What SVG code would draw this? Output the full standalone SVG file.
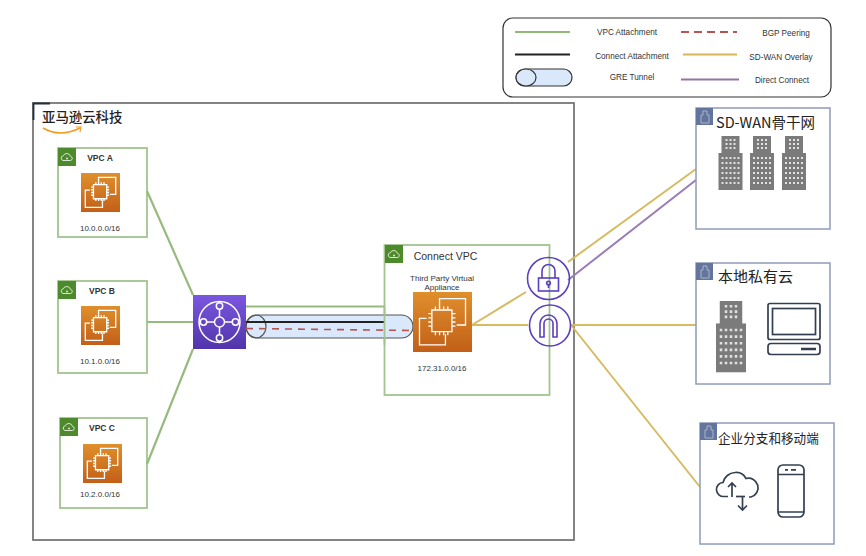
<svg xmlns="http://www.w3.org/2000/svg" width="866" height="556" viewBox="0 0 866 556">
<style>
.t{font-family:"Liberation Sans",Arial,sans-serif;fill:#333;text-anchor:middle}
.leg{font-size:8.200px}
.cidr{font-size:8px}
.vpc{fill:#fff;stroke:#a3c48e;stroke-width:1.800}
.cjk{font-family:"Noto Sans CJK SC","Liberation Sans",sans-serif;fill:#222}
.site{fill:#fff;stroke:#8f9bb8;stroke-width:1.500}
.g{stroke:#97bb7e;stroke-width:2.200;fill:none}
.y{stroke:#d6bb62;stroke-width:2;fill:none}
.p{stroke:#9a7cb8;stroke-width:2;fill:none}
.ic{fill:none;stroke:#5a3fc0;stroke-width:1.600}
.w{fill:none;stroke:#fff;stroke-width:1.300}
.d{fill:none;stroke:#333f50;stroke-width:1.700}
</style>
<defs>
<linearGradient id="org" x1="0" y1="0" x2="0" y2="1"><stop offset="0" stop-color="#e08f2c"/><stop offset="1" stop-color="#c25f18"/></linearGradient>
<linearGradient id="pur" x1="0" y1="0" x2="0" y2="1"><stop offset="0" stop-color="#7b57e0"/><stop offset="1" stop-color="#5134ab"/></linearGradient>
<g id="chip">
<rect width="100" height="100" fill="url(#org)"/>
<path class="w" vector-effect="non-scaling-stroke" d="M45 26V11H89V55H74M55 70V88H11V44H23"/>
<rect class="w" vector-effect="non-scaling-stroke" x="32" y="30" width="34" height="36"/>
<path class="w" vector-effect="non-scaling-stroke" d="M38 24V30M45 24V30M52 24V30M59 24V30M38 66V72M45 66V72M52 66V72M59 66V72M26 36H32M26 43H32M26 50H32M26 57H32M66 36H72M66 43H72M66 50H72M66 57H72"/>
</g>
<g id="cloud">
<rect width="18" height="18" fill="#4d8a2c"/>
<path d="M5 12.500a2.400 2.400 0 0 1 .3-4.700a3.800 3.800 0 0 1 7.200.6a2.100 2.100 0 0 1 .2 4.100z" fill="none" stroke="#d8e8cc" stroke-width="1"/>
<circle cx="9" cy="10.500" r="1" fill="#d8e8cc"/>
</g>
<g id="siteicon">
<rect width="17" height="17" fill="#63759c"/>
<path d="M5 15V7H7V3H11V7H13V15Z" fill="none" stroke="#aab4ca" stroke-width="1"/>
</g>
<g id="bldg">
<rect x="3" y="0" width="18" height="18" fill="#7b7b7b"/>
<rect x="0" y="17" width="24" height="37" fill="#7b7b7b"/>
<path d="M7 4H18M7 8H18M7 12H18" stroke="#e2e2e2" stroke-width="2" stroke-dasharray="2 2"/>
<path d="M3 22H22M3 27H22M3 32H22M3 37H22M3 42H22M3 47H22" stroke="#e2e2e2" stroke-width="2" stroke-dasharray="2 2"/>
</g>
</defs>
<rect width="866" height="556" fill="#fff"/>

<g id="legend">
<rect x="503" y="18" width="328" height="79" rx="10" fill="#fff" stroke="#333" stroke-width="1.200"/>
<path d="M515 32H570" stroke="#93b97a" stroke-width="2"/>
<path d="M515 54.500H570" stroke="#222" stroke-width="2"/>
<rect x="516" y="69" width="56" height="17" rx="8.500" fill="#dae8fc" stroke="#333" stroke-width="1.200"/>
<ellipse cx="526" cy="77.500" rx="10" ry="8.500" fill="#dae8fc" stroke="#333" stroke-width="1.200"/>
<path d="M681 32H737" stroke="#b85450" stroke-width="1.800" stroke-dasharray="8 5"/>
<path d="M683 54.500H737" stroke="#d6b656" stroke-width="1.800"/>
<path d="M681 79.500H739" stroke="#9673a6" stroke-width="1.800"/>
<text class="t leg" x="627" y="35">VPC Attachment</text>
<text class="t leg" x="632" y="59">Connect Attachment</text>
<text class="t leg" x="632" y="80">GRE Tunnel</text>
<text class="t leg" x="786" y="36">BGP Peering</text>
<text class="t leg" x="781" y="60">SD-WAN Overlay</text>
<text class="t leg" x="782" y="83">Direct Connect</text>
</g>

<g id="aws-cloud">
<rect x="33" y="103" width="541" height="437" fill="#fff" stroke="#777" stroke-width="1.800"/>
<path d="M33.500 120V103.500H50" fill="none" stroke="#232f3e" stroke-width="1.800"/>
<text class="cjk" x="42" y="122" font-size="13.400" font-weight="500">亚马逊云科技</text>
<path d="M43 128Q60 138 80 128" fill="none" stroke="#f09a1e" stroke-width="1.600"/>
<path d="M76 127L81 127L80 132" fill="none" stroke="#f09a1e" stroke-width="1.200"/>
</g>

<g id="vpc-a">
<rect class="vpc" x="58" y="148" width="89" height="89"/>
<use href="#cloud" x="58" y="148"/>
<text class="t" x="100" y="161" font-size="8.500" font-weight="700">VPC A</text>
<use href="#chip" transform="translate(81 173) scale(.39)"/>
<text class="t cidr" x="100" y="231">10.0.0.0/16</text>
</g>
<g id="vpc-b">
<rect class="vpc" x="58" y="281" width="89" height="92"/>
<use href="#cloud" x="58" y="281"/>
<text class="t" x="102" y="294" font-size="8.500" font-weight="700">VPC B</text>
<use href="#chip" transform="translate(81 306) scale(.39)"/>
<text class="t cidr" x="100" y="364">10.1.0.0/16</text>
</g>
<g id="vpc-c">
<rect class="vpc" x="60" y="418" width="87" height="90"/>
<use href="#cloud" x="60" y="418"/>
<text class="t" x="102" y="431" font-size="8.500" font-weight="700">VPC C</text>
<use href="#chip" transform="translate(83 444) scale(.39)"/>
<text class="t cidr" x="100" y="497">10.2.0.0/16</text>
</g>

<g id="connect-vpc">
<rect class="vpc" x="384.500" y="245" width="165" height="150"/>
<use href="#cloud" x="385" y="245"/>
<text class="t" x="445.500" y="260" font-size="10.500">Connect VPC</text>
<text class="t" x="442" y="281" font-size="8">Third Party Virtual</text>
<text class="t" x="442" y="290" font-size="8">Appliance</text>
<text class="t cidr" x="442" y="371">172.31.0.0/16</text>
</g>

<g id="connectors">
<path class="g" d="M147 191L193 295M147 322H193M147 464L193 349"/>
<path class="g" d="M246 306.500H384"/>
<rect x="246" y="315" width="167" height="23" rx="11.500" fill="#dae8fc" stroke="#555" stroke-width="1.200"/>
<ellipse cx="256" cy="326.500" rx="10" ry="11.500" fill="none" stroke="#555" stroke-width="1.200"/>
<path d="M246 322H384" stroke="#222" stroke-width="2"/>
<path d="M246 328.500L413 330.500" stroke="#b85450" stroke-width="1.600" stroke-dasharray="7 6"/>
<path d="M384.500 306V345" class="g" style="stroke:#a3c48e;stroke-width:1.800"/>
<path class="y" d="M472 325L526 292M472 325H528M571 325H696M571 325L700 487M568 262L696 169"/>
<path class="p" d="M568 280L696 180"/>
</g>

<g id="appliance"><use href="#chip" transform="translate(413 292) scale(.59 .6)"/></g>

<g id="tgw">
<rect x="193" y="295" width="53" height="54" fill="url(#pur)"/>
<g fill="none" stroke="#fff" stroke-width="1.500">
<circle cx="219.500" cy="322" r="20.500"/>
<circle cx="219.500" cy="322" r="5"/>
<circle cx="219.500" cy="306" r="3.200"/>
<circle cx="219.500" cy="338" r="3.200"/>
<circle cx="203.500" cy="322" r="3.200"/>
<circle cx="235.500" cy="322" r="3.200"/>
<path d="M219.500 309V317M219.500 327V335M206.500 322H214.500M224.500 322H232.500"/>
</g>
</g>

<g id="vpn-gateway">
<circle cx="548.500" cy="278.500" r="21" fill="#fff" class="ic"/>
<rect x="538.500" y="278" width="20" height="13" class="ic"/>
<path class="ic" d="M542 278V271a6.500 6.500 0 0 1 13 0V278"/>
<circle cx="548.500" cy="283" r="1.800" class="ic"/>
<path class="ic" d="M548.500 285V288"/>
</g>
<g id="internet-gateway">
<circle cx="550" cy="325.500" r="20.500" fill="#fff" class="ic"/>
<path class="ic" d="M540 337V323.500a8.500 8.500 0 0 1 17 0V337H553V323.500a4.500 4.500 0 0 0-9 0V337Z"/>
</g>

<g id="sd-wan">
<rect class="site" x="696" y="108" width="134" height="121"/>
<use href="#siteicon" x="696" y="108"/>
<text class="cjk" x="716" y="128" font-size="14.500">SD-WAN骨干网</text>
<use href="#bldg" x="718.500" y="136"/>
<use href="#bldg" x="750" y="136"/>
<use href="#bldg" x="782" y="136"/>
</g>
<g id="private-cloud">
<rect class="site" x="696" y="263" width="134" height="121"/>
<use href="#siteicon" x="696" y="263"/>
<text class="cjk" x="718" y="282" font-size="15">本地私有云</text>
<use href="#bldg" transform="translate(716 301) scale(1.250 1.320)"/>
<rect class="d" x="768" y="303.500" width="52" height="36" rx="2"/>
<rect class="d" x="772.500" y="308.500" width="43" height="26"/>
<rect class="d" x="768" y="343.500" width="52" height="11" rx="3"/>
<path d="M801 349H816" stroke="#333f50" stroke-width="2.500"/>
</g>
<g id="branch">
<rect class="site" x="700" y="423" width="134" height="121"/>
<use href="#siteicon" x="700" y="423"/>
<text class="cjk" x="718" y="443" font-size="12.600">企业分支和移动端</text>
<path class="d" d="M728 496.500H724a7 7 0 0 1-1-14a13 13 0 0 1 12-10a11 11 0 0 1 11 6a9.500 9.500 0 0 1 5 18.500H749"/>
<path class="d" d="M736 496.500H745"/>
<path class="d" d="M732 497V483M728 487L732 483L736 487M742.500 497V510M738 505.500L742.500 510L747 505.500"/>
<rect class="d" x="778" y="465" width="26" height="52" rx="5"/>
<path class="d" d="M778 474.500H804M778 512H804"/>
<path class="d" d="M785 469.800H788M791 469.800H796"/>
</g>
</svg>
